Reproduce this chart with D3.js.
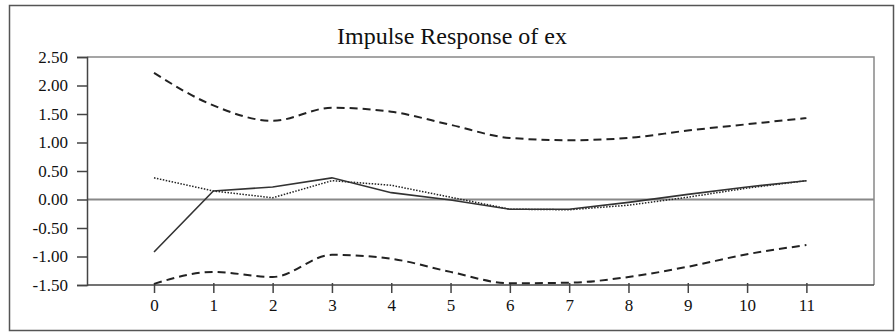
<!DOCTYPE html>
<html>
<head>
<meta charset="utf-8">
<script src="https://cdn.jsdelivr.net/npm/d3@7"></script>
<style>
  body { margin: 0; background: #fff; }
  text { font-family: "Liberation Serif", "DejaVu Serif", serif; fill: #222; }
</style>
</head>
<body>
<div id="chart"></div>
<script>
// periods on the x axis
var periods = [0, 1, 2, 3, 4, 5, 6, 7, 8, 9, 10, 11];
// point response (solid)
var response = [-0.92, 0.15, 0.22, 0.38, 0.12, -0.01, -0.17, -0.17, -0.05, 0.09, 0.22, 0.33];
// second estimate (dotted)
var alt = [0.38, 0.15, 0.03, 0.33, 0.25, 0.04, -0.17, -0.18, -0.10, 0.04, 0.20, 0.33];
// confidence bands (dashed)
var upper = [2.22, 1.65, 1.38, 1.61, 1.54, 1.31, 1.08, 1.04, 1.08, 1.21, 1.32, 1.43];
var lower = [-1.48, -1.27, -1.36, -0.97, -1.04, -1.27, -1.47, -1.46, -1.36, -1.18, -0.96, -0.80];
var yTicks = [2.5, 2.0, 1.5, 1.0, 0.5, 0.0, -0.5, -1.0, -1.5];

var W = 896, H = 332;
var svg = d3.select("#chart").append("svg")
  .attr("width", W).attr("height", H);

// outer frame
svg.append("rect")
  .attr("x", 9.5).attr("y", 5.5)
  .attr("width", 884).attr("height", 325)
  .style("fill", "none").style("stroke", "#555").style("stroke-width", 1.5);

var pLeft = 87, pRight = 874, pTop = 57, pBottom = 285;

var x = d3.scaleLinear().domain([-1.13, 12.14]).range([pLeft, pRight]);
var y = d3.scaleLinear().domain([-1.5, 2.5]).range([pBottom, pTop]);

// title
svg.append("text")
  .attr("x", 452).attr("y", 44)
  .attr("text-anchor", "middle")
  .style("font-size", "24px")
  .style("fill", "#111")
  .text("Impulse Response of ex");

// plot box (top / right in light gray)
svg.append("path")
  .attr("d", "M" + pLeft + "," + pTop + "H" + pRight + "V" + pBottom)
  .style("fill", "none").style("stroke", "#888").style("stroke-width", 1.5);

// zero line
svg.append("line")
  .attr("x1", pLeft).attr("x2", pRight)
  .attr("y1", y(0)).attr("y2", y(0))
  .style("stroke", "#888").style("stroke-width", 2);

// y axis, plain hyphen for negatives like the original
var fmt = d3.format(".2f");
var yAxis = svg.append("g")
  .attr("transform", "translate(" + pLeft + ",0)")
  .call(d3.axisLeft(y).tickValues(yTicks)
    .tickFormat(function (d) { return fmt(d).replace("\u2212", "-"); })
    .tickSize(10).tickPadding(9));
yAxis.select(".domain").style("stroke", "#444").style("stroke-width", 1.5);
yAxis.selectAll(".tick line").style("stroke", "#444").style("stroke-width", 1.5);
yAxis.selectAll("text").style("font-size", "17px").style("font-family", "Liberation Serif, serif").style("fill", "#111");

// x axis
var xAxis = svg.append("g")
  .attr("transform", "translate(0," + pBottom + ")")
  .call(d3.axisBottom(x).tickValues(periods).tickFormat(d3.format("d")).tickSize(8).tickPadding(6));
xAxis.select(".domain").attr("d", "M" + pLeft + ",0H" + pRight)
  .style("stroke", "#444").style("stroke-width", 1.5);
xAxis.selectAll(".tick line").attr("y1", -2).style("stroke", "#444").style("stroke-width", 1.5);
xAxis.selectAll("text").style("font-size", "17px").style("font-family", "Liberation Serif, serif").style("fill", "#111");

var smooth = d3.line()
  .x(function (d, i) { return x(periods[i]); })
  .y(function (d) { return y(d); })
  .curve(d3.curveMonotoneX);

var straight = d3.line()
  .x(function (d, i) { return x(periods[i]); })
  .y(function (d) { return y(d); });

// dashed bands
[upper, lower].forEach(function (s) {
  svg.append("path")
    .attr("d", smooth(s))
    .style("fill", "none")
    .style("stroke", "#222")
    .style("stroke-width", 2)
    .style("stroke-dasharray", "8,5");
});

// dotted series
svg.append("path")
  .attr("d", straight(alt))
  .style("fill", "none")
  .style("stroke", "#222")
  .style("stroke-width", 1.5)
  .style("stroke-dasharray", "1.5,1.5");

// solid response
svg.append("path")
  .attr("d", straight(response))
  .style("fill", "none")
  .style("stroke", "#333")
  .style("stroke-width", 1.6);
</script>
</body>
</html>
